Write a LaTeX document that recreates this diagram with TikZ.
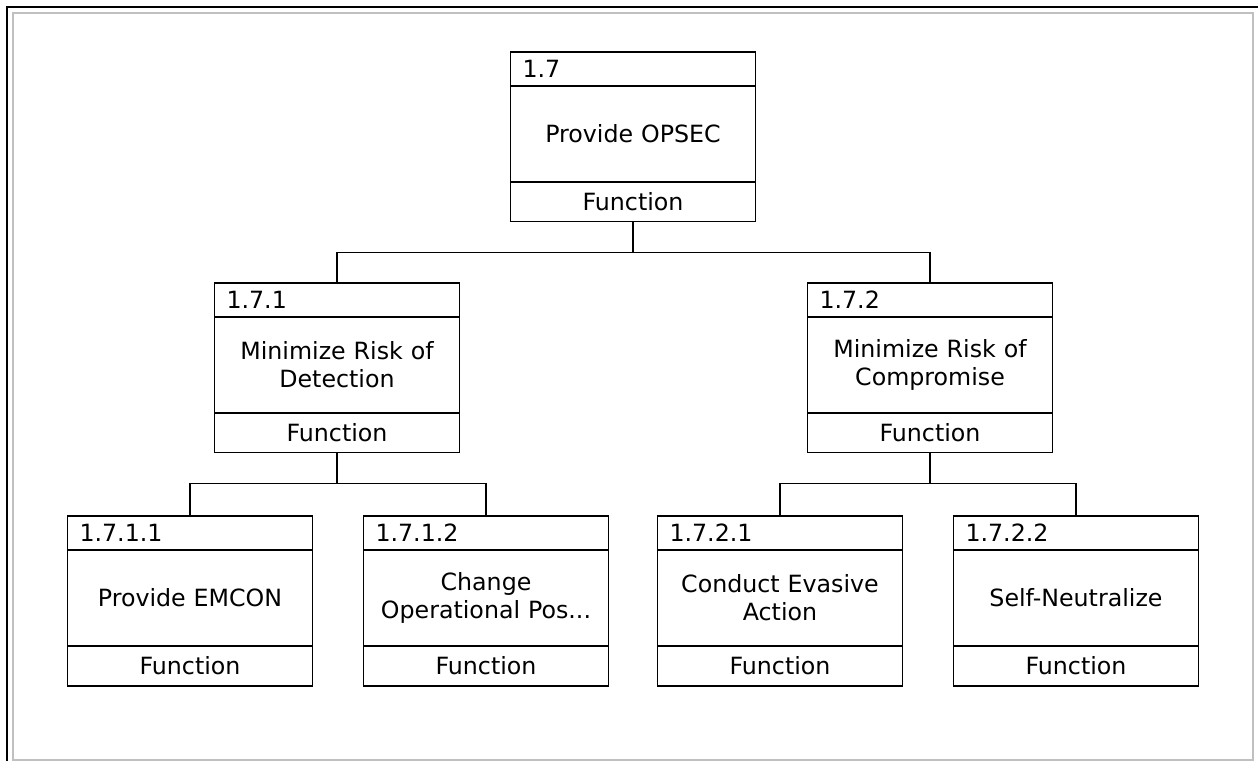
\documentclass[tikz,border=0pt]{standalone}
\usepackage{fontspec}
\setmainfont{DejaVu Sans}
\usetikzlibrary{positioning}
\definecolor{framegray}{RGB}{192,192,192}

\begin{document}
\begin{tikzpicture}[x=0.02cm,y=-0.02cm,
        every node/.style={draw,line width=0.6pt,outer sep=0pt,font=\fontsize{13.5}{15.9}\selectfont},
        numbox/.style={text width=4.42cm,inner xsep=0.24cm,align=left,minimum height=0.68cm,anchor=north},
        namebox/.style={text width=4.5cm,inner xsep=0.2cm,align=center,minimum height=1.92cm},
        typebox/.style={text width=4.5cm,inner xsep=0.2cm,align=center,minimum height=0.8cm},
        link/.style={line width=0.6pt}]
        \useasboundingbox(0,0)rectangle(1258,761);
        \draw[framegray,line width=0.6pt](13,13)rectangle(1253,760);
        \draw[line width=0.8pt](1258,7)--(7,7)--(7,761);

        \node[numbox](n17)at(633,52){1.7};
        \node[namebox,below=0pt of n17](f17){Provide OPSEC};
        \node[typebox,below=0pt of f17](t17){Function};

        \node[numbox](n171)at(337,283){1.7.1};
        \node[namebox,below=0pt of n171](f171){Minimize Risk of\\Detection};
        \node[typebox,below=0pt of f171](t171){Function};

        \node[numbox](n172)at(930,283){1.7.2};
        \node[namebox,below=0pt of n172](f172){Minimize Risk of\\Compromise};
        \node[typebox,below=0pt of f172](t172){Function};

        \node[numbox](n1711)at(190,516){1.7.1.1};
        \node[namebox,below=0pt of n1711](f1711){Provide EMCON};
        \node[typebox,below=0pt of f1711](t1711){Function};

        \node[numbox](n1712)at(486,516){1.7.1.2};
        \node[namebox,below=0pt of n1712](f1712){Change\\Operational Pos...};
        \node[typebox,below=0pt of f1712](t1712){Function};

        \node[numbox](n1721)at(780,516){1.7.2.1};
        \node[namebox,below=0pt of n1721](f1721){Conduct Evasive\\Action};
        \node[typebox,below=0pt of f1721](t1721){Function};

        \node[numbox](n1722)at(1076,516){1.7.2.2};
        \node[namebox,below=0pt of n1722](f1722){Self-Neutralize};
        \node[typebox,below=0pt of f1722](t1722){Function};

        \draw[link](t17.south)--++(0,31)-|(n171.north);
        \draw[link](t17.south)--++(0,31)-|(n172.north);
        \draw[link](t171.south)--++(0,31)-|(n1711.north);
        \draw[link](t171.south)--++(0,31)-|(n1712.north);
        \draw[link](t172.south)--++(0,31)-|(n1721.north);
        \draw[link](t172.south)--++(0,31)-|(n1722.north);
    \end{tikzpicture}
\end{document}
